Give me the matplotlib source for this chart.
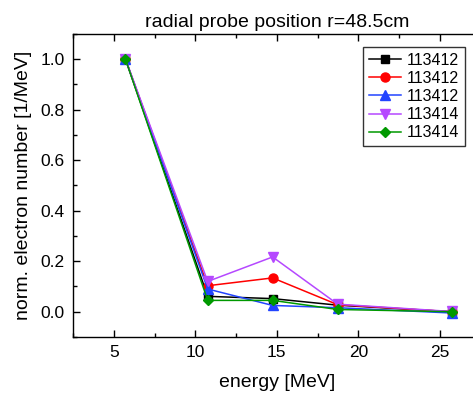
import matplotlib
matplotlib.use("Agg")
import matplotlib.pyplot as plt
from matplotlib.ticker import MultipleLocator, FormatStrFormatter

plt.rcParams['font.family'] = ['Liberation Sans', 'DejaVu Sans']

energy = [5.72, 10.76, 14.74, 18.73, 25.72]
run_labels = ["113412", "113412", "113412", "113414", "113414"]
series = [
    [1.0, 0.061, 0.052, 0.026, 0.000],
    [1.0, 0.103, 0.134, 0.028, 0.000],
    [1.0, 0.090, 0.025, 0.016, -0.005],
    [1.0, 0.120, 0.217, 0.030, 0.001],
    [1.0, 0.045, 0.045, 0.009, 0.000],
]
colors = ["#000000", "#ff0000", "#2244ff", "#b548ff", "#009900"]
markers = ["s", "o", "^", "v", "D"]
msizes = [5.5, 6.5, 6.5, 6.5, 5.5]

fig = plt.figure(figsize=(4.73, 3.99), dpi=100)
ax = fig.add_axes([0.1543, 0.1554, 0.862, 0.7594])

for y, c, m, ms, lab in zip(series, colors, markers, msizes, run_labels):
    ax.plot(energy, y, color=c, marker=m, markersize=ms, linewidth=1.1, label=lab)

ax.set_xlim(2.5, 27.5)
ax.set_ylim(-0.1, 1.1)
ax.xaxis.set_major_locator(MultipleLocator(5))
ax.xaxis.set_minor_locator(MultipleLocator(2.5))
ax.yaxis.set_major_locator(MultipleLocator(0.2))
ax.yaxis.set_minor_locator(MultipleLocator(0.1))
ax.yaxis.set_major_formatter(FormatStrFormatter('%.1f'))
ax.tick_params(which='both', direction='in', top=True, right=True, labelsize=12.5)
ax.tick_params(which='major', length=5, width=1, pad=6)
ax.tick_params(which='minor', length=3, width=1)
for s in ax.spines.values():
    s.set_linewidth(1.0)

ax.set_xlabel("energy [MeV]", fontsize=14, labelpad=10)
ax.set_ylabel("norm. electron number [1/MeV]", fontsize=14, labelpad=6)
ax.set_title("radial probe position r=48.5cm", fontsize=14, pad=5)

leg = ax.legend(loc='upper left', bbox_to_anchor=(363 / 473, 1 - 47 / 399),
                bbox_transform=fig.transFigure, fontsize=11.5, frameon=True,
                fancybox=False, edgecolor='black', handlelength=2.0,
                borderpad=0.35, labelspacing=0.2, handletextpad=0.4,
                borderaxespad=0)
leg.get_frame().set_linewidth(1.0)

fig.savefig("out.png", dpi=100)
